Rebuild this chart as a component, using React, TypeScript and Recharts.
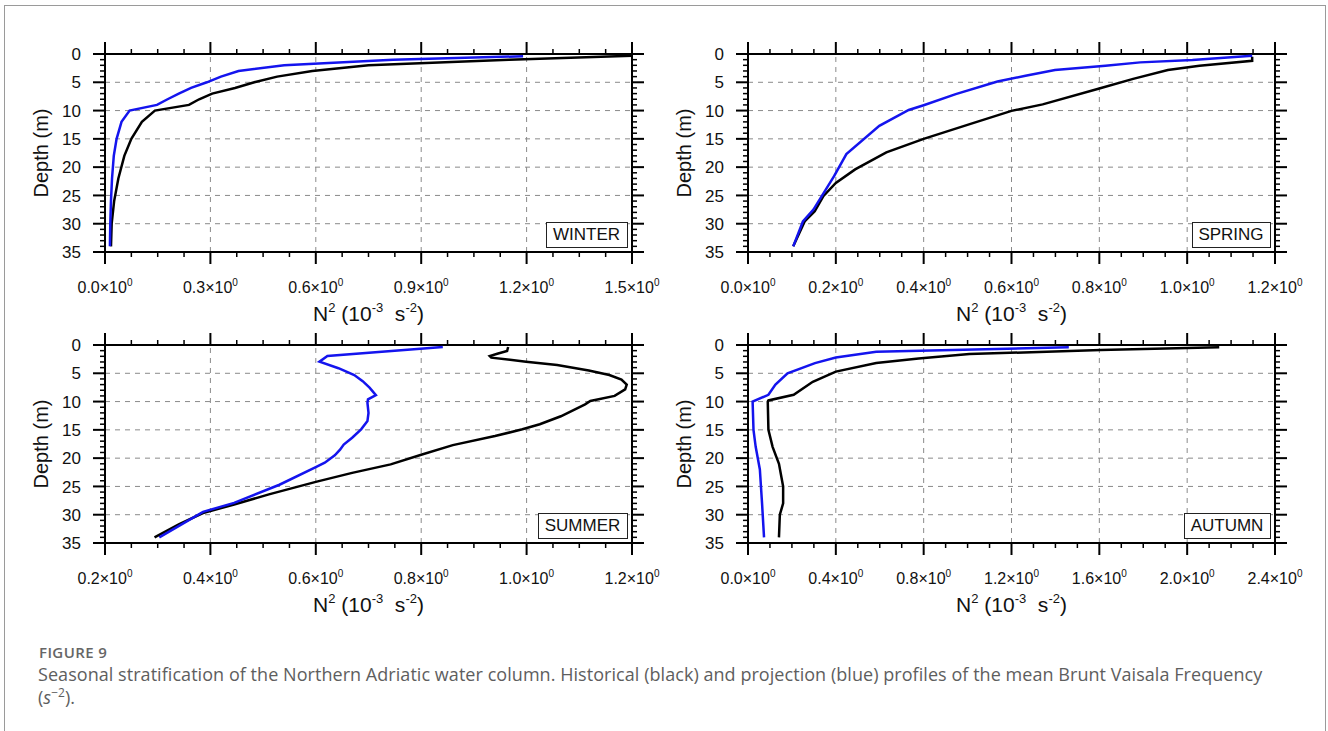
import React from 'react';
import { ScatterChart, Scatter, XAxis, YAxis, ReferenceLine } from 'recharts';

const FONT = '"Liberation Sans", Arial, Helvetica, sans-serif';
const CAPTION_FONT = '"Open Sans", "Noto Sans", sans-serif';
const BLUE = '#1414ee';

// depth axis (m)
const depthMajor = [0, 5, 10, 15, 20, 25, 30, 35];

// x axis majors per season (10^-3 s^-2)
const winterTicks = [0, 0.3, 0.6, 0.9, 1.2, 1.5];
const springTicks = [0, 0.2, 0.4, 0.6, 0.8, 1.0, 1.2];
const summerTicks = [0.2, 0.4, 0.6, 0.8, 1.0, 1.2];
const autumnTicks = [0, 0.4, 0.8, 1.2, 1.6, 2.0, 2.4];

// WINTER
const winterHistDepth = [0.3, 1, 2, 3, 4, 5, 6, 7, 8, 9, 10, 12, 15, 18, 22, 26, 30, 34];
const winterHistN2 = [1.5, 1.15, 0.75, 0.59, 0.49, 0.425, 0.37, 0.305, 0.268, 0.239, 0.142, 0.105, 0.075, 0.055, 0.038, 0.026, 0.019, 0.017];
const winterProjDepth = [0.4, 1, 2, 3, 4, 5, 6, 7, 8, 9, 10, 12, 15, 18, 22, 26, 30, 34];
const winterProjN2 = [1.19, 0.82, 0.51, 0.38, 0.33, 0.29, 0.245, 0.21, 0.178, 0.148, 0.07, 0.047, 0.033, 0.025, 0.02, 0.017, 0.015, 0.014];

// SPRING
const springHistDepth = [0.47, 1.2, 2.07, 2.84, 4.4, 6.1, 8.9, 10.05, 12.4, 15, 17.4, 20.4, 22.8, 25.1, 27.8, 29.6, 34];
const springHistN2 = [1.148, 1.148, 1.028, 0.956, 0.877, 0.8, 0.671, 0.6, 0.505, 0.4, 0.315, 0.244, 0.2, 0.172, 0.152, 0.129, 0.103];
const springProjDepth = [0.3, 1.06, 1.48, 2.07, 2.84, 3.84, 4.85, 7.1, 9.05, 9.9, 12.7, 17.7, 21.6, 27.5, 29.6, 34];
const springProjN2 = [1.148, 1.012, 0.893, 0.814, 0.699, 0.632, 0.568, 0.473, 0.4, 0.366, 0.299, 0.224, 0.196, 0.149, 0.125, 0.103];

// SUMMER
const summerHistDepth = [0.35, 1.06, 1.5, 1.95, 2.24, 2.95, 3.54, 4.5, 5.3, 6.1, 7.0, 7.85, 9.0, 9.9, 10.5, 12.6, 14.0, 14.9, 16.1, 17.7, 19.4, 21.1, 22.6, 24.2, 26.4, 28.2, 29.7, 31.7, 34];
const summerHistN2 = [0.965, 0.963, 0.946, 0.93, 0.933, 0.999, 1.058, 1.118, 1.157, 1.18, 1.19, 1.187, 1.167, 1.121, 1.111, 1.065, 1.025, 0.992, 0.94, 0.86, 0.8, 0.742, 0.669, 0.6, 0.511, 0.445, 0.386, 0.34, 0.294];
const summerProjDepth = [0.35, 1.95, 2.95, 4.1, 5.3, 6.4, 7.55, 8.85, 9.6, 10.2, 12.0, 13.45, 14.9, 16.4, 17.6, 18.5, 19.5, 20.8, 21.6, 24.7, 27.9, 29.5, 34];
const summerProjN2 = [0.841, 0.622, 0.607, 0.643, 0.673, 0.689, 0.702, 0.714, 0.699, 0.698, 0.7, 0.698, 0.686, 0.669, 0.653, 0.646, 0.636, 0.617, 0.6, 0.531, 0.445, 0.386, 0.303];

// AUTUMN
const autumnHistDepth = [0.4, 0.9, 1.6, 2.4, 3.2, 4.7, 6.5, 8.8, 9.8, 10, 15, 18, 21, 25, 28, 30, 34];
const autumnHistN2 = [2.146, 1.606, 1.008, 0.777, 0.584, 0.4, 0.295, 0.208, 0.093, 0.09, 0.093, 0.112, 0.141, 0.16, 0.16, 0.145, 0.141];
const autumnProjDepth = [0.4, 1.2, 2.2, 3.2, 5, 7, 8.8, 10, 15, 18, 22, 28, 34];
const autumnProjN2 = [1.461, 0.584, 0.4, 0.305, 0.18, 0.125, 0.093, 0.021, 0.025, 0.035, 0.054, 0.064, 0.073];

const toPoints = (depth: number[], n2: number[]) => depth.map((d, i) => ({ depth: d, n2: n2[i] }));

// plot box inside each chart
const CW = 664;
const CH = 330;
const PL = 105;
const PR = 632;
const PT = 54;
const PB = 252;

const noShape = () => <g />;

interface PanelProps {
  left: number;
  top: number;
  season: string;
  boxWidth: number;
  xMajor: number[];
  minorDiv: number;
  hist: { depth: number; n2: number }[];
  proj: { depth: number; n2: number }[];
}

function Panel({ left, top, season, boxWidth, xMajor, minorDiv, hist, proj }: PanelProps) {
  const lo = xMajor[0];
  const hi = xMajor[xMajor.length - 1];
  const step = xMajor[1] - xMajor[0];
  const xAll: number[] = [...xMajor];
  for (let i = 0; i < xMajor.length - 1; i++) {
    for (let k = 1; k < minorDiv; k++) xAll.push(+(xMajor[i] + (step * k) / minorDiv).toFixed(4));
  }
  xAll.sort((a, b) => a - b);
  const yAll: number[] = [];
  for (let d = 0; d <= 35; d++) yAll.push(d);

  const isMajorX = (v: number) => xMajor.some(m => Math.abs(m - v) < 1e-6);
  const isMajorY = (v: number) => v % 5 === 0;

  const bottomTick = (p: any) => {
    const v = p.payload.value;
    const maj = isMajorX(v);
    return (
      <g>
        <line x1={p.x} x2={p.x} y1={p.y} y2={p.y + (maj ? 12 : 5)} stroke="#000" strokeWidth={maj ? 2 : 1.5} />
        {maj && (
          <text x={p.x} y={p.y + 41} textAnchor="middle" fontSize={16} fontFamily={FONT} fill="#111">
            <tspan>{v.toFixed(1)}×10</tspan>
            <tspan dy={-7} fontSize={10}>0</tspan>
          </text>
        )}
      </g>
    );
  };
  const topTick = (p: any) => {
    const maj = isMajorX(p.payload.value);
    return <line x1={p.x} x2={p.x} y1={p.y} y2={p.y - (maj ? 12 : 5)} stroke="#000" strokeWidth={maj ? 2 : 1.5} />;
  };
  const leftTick = (p: any) => {
    const v = p.payload.value;
    const maj = isMajorY(v);
    return (
      <g>
        <line x1={p.x} x2={p.x - (maj ? 12 : 5)} y1={p.y} y2={p.y} stroke="#000" strokeWidth={maj ? 2 : 1.5} />
        {maj && (
          <text x={p.x - 24} y={p.y} dy="0.36em" textAnchor="end" fontSize={17} fontFamily={FONT} fill="#111">
            {v}
          </text>
        )}
      </g>
    );
  };
  const rightTick = (p: any) => {
    const maj = isMajorY(p.payload.value);
    return <line x1={p.x} x2={p.x + (maj ? 12 : 5)} y1={p.y} y2={p.y} stroke="#000" strokeWidth={maj ? 2 : 1.5} />;
  };

  const axisLine = { stroke: '#000', strokeWidth: 2 };
  const sup: React.CSSProperties = { fontSize: 13, position: 'relative', top: -9 };

  return (
    <div style={{ position: 'absolute', left, top, width: CW, height: CH }}>
      <ScatterChart width={CW} height={CH} margin={{ top: PT - 20, right: CW - PR - 20, bottom: CH - PB - 60, left: PL - 60 }}>
        <XAxis xAxisId="b" orientation="bottom" type="number" dataKey="n2" domain={[lo, hi]} ticks={xAll} interval={0}
          tickSize={0} tickMargin={0} tickLine={false} axisLine={axisLine} tick={bottomTick} height={60} allowDataOverflow />
        <XAxis xAxisId="t" orientation="top" type="number" dataKey="n2" domain={[lo, hi]} ticks={xAll} interval={0}
          tickSize={0} tickMargin={0} tickLine={false} axisLine={axisLine} tick={topTick} height={20} allowDataOverflow />
        <YAxis yAxisId="l" orientation="left" type="number" dataKey="depth" domain={[0, 35]} reversed ticks={yAll} interval={0}
          tickSize={0} tickMargin={0} tickLine={false} axisLine={axisLine} tick={leftTick} width={60} allowDataOverflow />
        <YAxis yAxisId="r" orientation="right" type="number" dataKey="depth" domain={[0, 35]} reversed ticks={yAll} interval={0}
          tickSize={0} tickMargin={0} tickLine={false} axisLine={axisLine} tick={rightTick} width={20} allowDataOverflow />
        {xMajor.slice(1, -1).map(v => (
          <ReferenceLine key={'gx' + v} xAxisId="b" yAxisId="l" x={v} stroke="#8a8a8a" strokeWidth={1} strokeDasharray="5 5" />
        ))}
        {depthMajor.slice(1, -1).map(v => (
          <ReferenceLine key={'gy' + v} xAxisId="b" yAxisId="l" y={v} stroke="#8a8a8a" strokeWidth={1} strokeDasharray="5 5" />
        ))}
        <Scatter xAxisId="b" yAxisId="l" data={hist} line={{ stroke: '#000', strokeWidth: 2.5 }} lineType="joint"
          shape={noShape} isAnimationActive={false} />
        <Scatter xAxisId="b" yAxisId="l" data={proj} line={{ stroke: BLUE, strokeWidth: 2.5 }} lineType="joint"
          shape={noShape} isAnimationActive={false} />
      </ScatterChart>

      <div style={{ position: 'absolute', left: PR - 4.5 - boxWidth, top: PB - 4.5 - 26, width: boxWidth, height: 26,
        boxSizing: 'border-box', border: '1.5px solid #222', background: '#fff', fontFamily: FONT, fontSize: 17,
        lineHeight: '23px', textAlign: 'center', color: '#111' }}>
        {season}
      </div>

      <div style={{ position: 'absolute', left: (PL + PR) / 2 - 150, top: PB + 51, width: 300, textAlign: 'center',
        fontFamily: FONT, fontSize: 21, lineHeight: '21px', color: '#111', whiteSpace: 'pre' }}>
        N<span style={sup}>2</span> (10<span style={sup}>-3</span>  s<span style={sup}>-2</span>)
      </div>

      <div style={{ position: 'absolute', left: PL - 64 - 100, top: (PT + PB) / 2 - 12, width: 200, height: 24,
        textAlign: 'center', fontFamily: FONT, fontSize: 20, lineHeight: '24px', color: '#111', transform: 'rotate(-90deg)' }}>
        Depth (m)
      </div>
    </div>
  );
}

export default function App() {
  return (
    <div style={{ position: 'relative', width: 1328, height: 731, overflow: 'hidden', background: '#fff' }}>
      <style>{'body{margin:0}'}</style>
      <div style={{ position: 'absolute', left: 4, top: 5, width: 1322, height: 760, boxSizing: 'border-box', border: '1.5px solid #9a9a9a' }} />

      <Panel left={0} top={0} season="WINTER" boxWidth={82} xMajor={winterTicks} minorDiv={4}
        hist={toPoints(winterHistDepth, winterHistN2)} proj={toPoints(winterProjDepth, winterProjN2)} />
      <Panel left={643} top={0} season="SPRING" boxWidth={79} xMajor={springTicks} minorDiv={4}
        hist={toPoints(springHistDepth, springHistN2)} proj={toPoints(springProjDepth, springProjN2)} />
      <Panel left={0} top={291} season="SUMMER" boxWidth={90} xMajor={summerTicks} minorDiv={4}
        hist={toPoints(summerHistDepth, summerHistN2)} proj={toPoints(summerProjDepth, summerProjN2)} />
      <Panel left={643} top={291} season="AUTUMN" boxWidth={87} xMajor={autumnTicks} minorDiv={4}
        hist={toPoints(autumnHistDepth, autumnHistN2)} proj={toPoints(autumnProjDepth, autumnProjN2)} />

      <div style={{ position: 'absolute', left: 39, top: 643, fontFamily: CAPTION_FONT, fontSize: 15, fontWeight: 600,
        color: '#666', lineHeight: '19px', letterSpacing: 0.4 }}>
        FIGURE 9
      </div>
      <div style={{ position: 'absolute', left: 38, top: 663, width: 1280, fontFamily: CAPTION_FONT, fontSize: 18,
        color: '#5e5e5e', lineHeight: '23px', whiteSpace: 'nowrap', letterSpacing: 0.05 }}>
        Seasonal stratification of the Northern Adriatic water column. Historical (black) and projection (blue) profiles of the mean Brunt Vaisala Frequency
        <br />
        (<i>s</i><sup style={{ fontSize: 12, lineHeight: 0 }}>−2</sup>).
      </div>
    </div>
  );
}
